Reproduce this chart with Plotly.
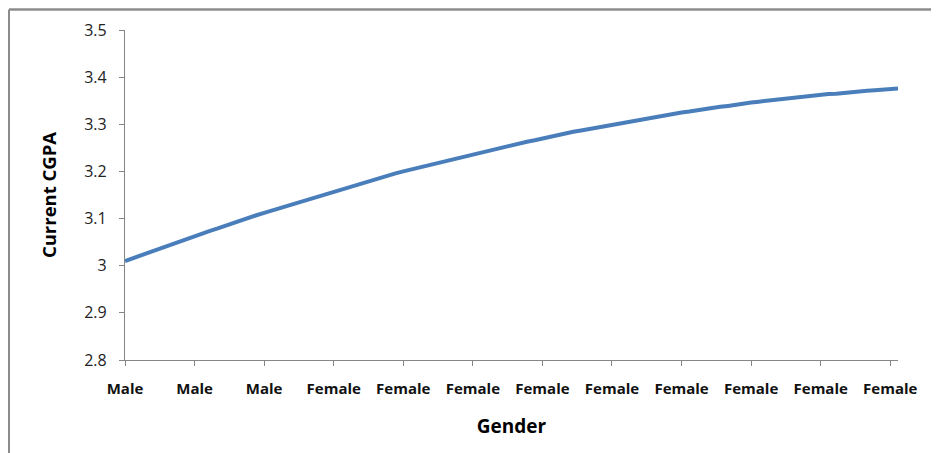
import plotly.graph_objects as go

cgpa = [
    3.010, 3.016, 3.022, 3.028, 3.034, 3.040, 3.046, 3.051, 3.057, 3.063,
    3.068, 3.074, 3.079, 3.085, 3.090, 3.096, 3.101, 3.107, 3.112, 3.117,
    3.123, 3.128, 3.133, 3.138, 3.143, 3.148, 3.153, 3.158, 3.163, 3.168,
    3.172, 3.177, 3.182, 3.187, 3.191, 3.196, 3.200, 3.204, 3.209, 3.213,
    3.217, 3.221, 3.225, 3.229, 3.233, 3.237, 3.241, 3.244, 3.248, 3.252,
    3.256, 3.259, 3.263, 3.266, 3.270, 3.273, 3.277, 3.280, 3.284, 3.287,
    3.290, 3.293, 3.297, 3.300, 3.303, 3.306, 3.309, 3.312, 3.314, 3.317,
    3.320, 3.322, 3.325, 3.327, 3.330, 3.332, 3.335, 3.337, 3.339, 3.342,
    3.344, 3.346, 3.348, 3.350, 3.352, 3.354, 3.356, 3.357, 3.359, 3.361,
    3.362, 3.364, 3.365, 3.367, 3.368, 3.370, 3.371, 3.372, 3.374, 3.375,
    3.376,
]
n_male = 25
gender = ["Male"] * n_male + ["Female"] * (len(cgpa) - n_male)
label_step = 9

obs = list(range(len(cgpa)))
tick_pos = obs[:-1:label_step]
tick_text = [gender[i] for i in tick_pos]

y_ticks = [2.8, 2.9, 3.0, 3.1, 3.2, 3.3, 3.4, 3.5]
y_tick_text = ["2.8", "2.9", "3", "3.1", "3.2", "3.3", "3.4", "3.5"]

fig = go.Figure()
fig.add_trace(go.Scatter(
    x=obs, y=cgpa, mode="lines",
    line=dict(color="#4A7EBB", width=4, shape="linear"),
    hoverinfo="skip", showlegend=False,
))

axis_col = "#868686"
font_fam = "Open Sans, Lato, DejaVu Sans, sans-serif"

W, H = 939, 453
ML, MR, MT, MB = 117, 49, 21.5, 101
pw = W - ML - MR
ph = H - MT - MB

fig.update_layout(
    width=W, height=H,
    margin=dict(l=ML, r=MR, t=MT, b=MB, pad=0),
    paper_bgcolor="white", plot_bgcolor="white",
    font=dict(family=font_fam, color="#000000"),
    xaxis=dict(
        range=[0, len(cgpa) - 1],
        tickmode="array", tickvals=tick_pos, ticktext=tick_text,
        ticks="outside", ticklen=5, tickcolor=axis_col, tickwidth=1,
        showline=True, linecolor=axis_col, linewidth=1.3,
        showgrid=False, zeroline=False,
        tickfont=dict(size=15, color="#111111", family=font_fam, weight="bold"),
        ticklabelstandoff=10,
        title=dict(text="Gender", font=dict(size=19, family=font_fam, weight="bold"), standoff=22),
    ),
    yaxis=dict(
        range=[2.8, 3.5],
        tickmode="array", tickvals=y_ticks, ticktext=y_tick_text,
        ticks="outside", ticklen=5, tickcolor=axis_col, tickwidth=1,
        showline=True, linecolor=axis_col, linewidth=1.3,
        showgrid=False, zeroline=False,
        tickfont=dict(size=16, color="#222222", family=font_fam),
        ticklabelstandoff=9,
        title=dict(text="Current CGPA", font=dict(size=18.5, family=font_fam, weight="bold"), standoff=22),
    ),
)

# outer chart-area border (top and left visible; right/bottom cut off by frame)
bx = (1 - ML) / pw
by = (H - MB - 1) / ph
fig.add_shape(type="line", xref="paper", yref="paper",
              x0=bx, x1=1.1, y0=by, y1=by,
              line=dict(color="#8c8c8c", width=2.5))
fig.add_shape(type="line", xref="paper", yref="paper",
              x0=bx, x1=bx, y0=by, y1=-0.35,
              line=dict(color="#8c8c8c", width=2))

fig.write_html("out.html")
